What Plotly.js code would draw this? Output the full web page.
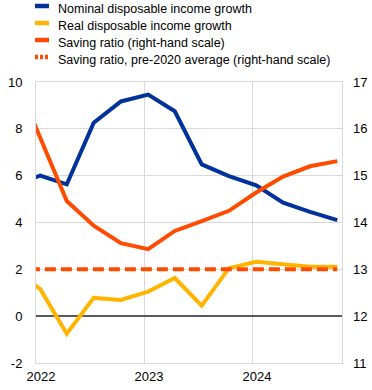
<!DOCTYPE html>
<html>
<head>
<meta charset="utf-8">
<script src="https://cdn.plot.ly/plotly-3.0.1.min.js"></script>
<style>html,body{margin:0;padding:0;background:#fff;}#chart{width:372px;height:390px;}</style>
</head>
<body>
<div id="chart"></div>
<script>
// Quarterly observations (2021 Q4 is partly visible at the left edge)
const dates = ['2021-10-15','2022-01-15','2022-04-15','2022-07-15','2022-10-15','2023-01-15','2023-04-15','2023-07-15','2023-10-15','2024-01-15','2024-04-15','2024-07-15','2024-10-15'];
const nominalGrowth = [5.6, 6.0, 5.63, 8.26, 9.17, 9.46, 8.75, 6.48, 5.98, 5.59, 4.85, 4.45, 4.1];
const realGrowth = [2.0, 1.16, -0.75, 0.78, 0.69, 1.05, 1.63, 0.45, 2.05, 2.32, 2.22, 2.11, 2.11];
const savingRatio = [17.2, 15.81, 14.46, 13.93, 13.56, 13.43, 13.82, 14.03, 14.25, 14.64, 14.98, 15.2, 15.31];
const savingPre2020Avg = [13.0, 13.0, 13.0, 13.0, 13.0, 13.0, 13.0, 13.0, 13.0, 13.0, 13.0, 13.0, 13.0];
const seriesNames = ['Nominal disposable income growth','Real disposable income growth','Saving ratio (right-hand scale)','Saving ratio, pre-2020 average (right-hand scale)'];
const yearTicks = ['2022-01-01','2023-01-01','2024-01-01'];
const yearLabels = ['2022','2023','2024'];
const leftTicks = [-2, 0, 2, 4, 6, 8, 10];
const leftLabels = ['-2','0','2','4','6','8','10'];
const rightTicks = [11, 12, 13, 14, 15, 16, 17];
const rightLabels = ['11','12','13','14','15','16','17'];

const BLUE = '#003299', YELLOW = '#ffb400', ORANGE = '#ff4b00';
const GRID = '#d9d9d9';
const FONT = 'Liberation Sans, Arial, sans-serif';

const traces = [
  {x: dates, y: realGrowth, name: seriesNames[1], type: 'scatter', mode: 'lines', line: {color: YELLOW, width: 4}, yaxis: 'y'},
  {x: dates, y: nominalGrowth, name: seriesNames[0], type: 'scatter', mode: 'lines', line: {color: BLUE, width: 4}, yaxis: 'y'},
  {x: dates, y: savingPre2020Avg, name: seriesNames[3], type: 'scatter', mode: 'lines', line: {color: ORANGE, width: 4, dash: '11px,5px'}, yaxis: 'y2'},
  {x: dates, y: savingRatio, name: seriesNames[2], type: 'scatter', mode: 'lines', line: {color: ORANGE, width: 4}, yaxis: 'y2'}
];

// custom legend (swatches + labels)
const L = 36, R = 342, T = 82, B = 363;
const pw = R - L, ph = B - T;
const px = v => (v - L) / pw;
const py = v => (B - v) / ph;
const legendColors = [BLUE, YELLOW, ORANGE, ORANGE];
const legendDash = ['solid','solid','solid','3px,2px'];
const swatchY = [6, 23, 40, 57];
const textY = [9, 26, 43, 60];
const shapes = [], annotations = [];
for (let i = 0; i < 4; i++) {
  shapes.push({type: 'line', xref: 'paper', yref: 'paper', x0: px(35), x1: px(49), y0: py(swatchY[i]), y1: py(swatchY[i]),
    line: {color: legendColors[i], width: 4.5, dash: legendDash[i]}});
  annotations.push({xref: 'paper', yref: 'paper', x: px(56), y: py(textY[i]), xanchor: 'left', yanchor: 'middle',
    text: seriesNames[i], showarrow: false, font: {family: FONT, size: 12.5, color: '#000'}});
}

const layout = {
  width: 372, height: 390,
  margin: {l: L, r: 372 - R, t: T, b: 390 - B, pad: 0},
  paper_bgcolor: '#fff', plot_bgcolor: '#fff',
  showlegend: false,
  font: {family: FONT, size: 13, color: '#000'},
  xaxis: {
    type: 'date', range: ['2022-01-01', '2024-10-31'],
    tickvals: yearTicks, ticktext: yearLabels,
    showgrid: true, gridcolor: GRID, gridwidth: 1,
    showline: true, mirror: true, linecolor: GRID, linewidth: 1,
    ticks: '', ticklabelshift: 5, ticklabelstandoff: 1,
    zeroline: false
  },
  yaxis: {
    range: [-2, 10], tickvals: leftTicks, ticktext: leftLabels,
    showgrid: true, gridcolor: GRID, gridwidth: 1,
    zeroline: true, zerolinecolor: '#595959', zerolinewidth: 2,
    showline: true, mirror: true, linecolor: GRID, linewidth: 1,
    ticks: '', ticklabelstandoff: 10
  },
  yaxis2: {
    overlaying: 'y', side: 'right', range: [11, 17], tickvals: rightTicks, ticktext: rightLabels,
    showgrid: false, zeroline: false, showline: false,
    ticks: '', ticklabelstandoff: 10
  },
  shapes: shapes,
  annotations: annotations
};

Plotly.newPlot('chart', traces, layout, {displayModeBar: false, staticPlot: true});
</script>
</body>
</html>
